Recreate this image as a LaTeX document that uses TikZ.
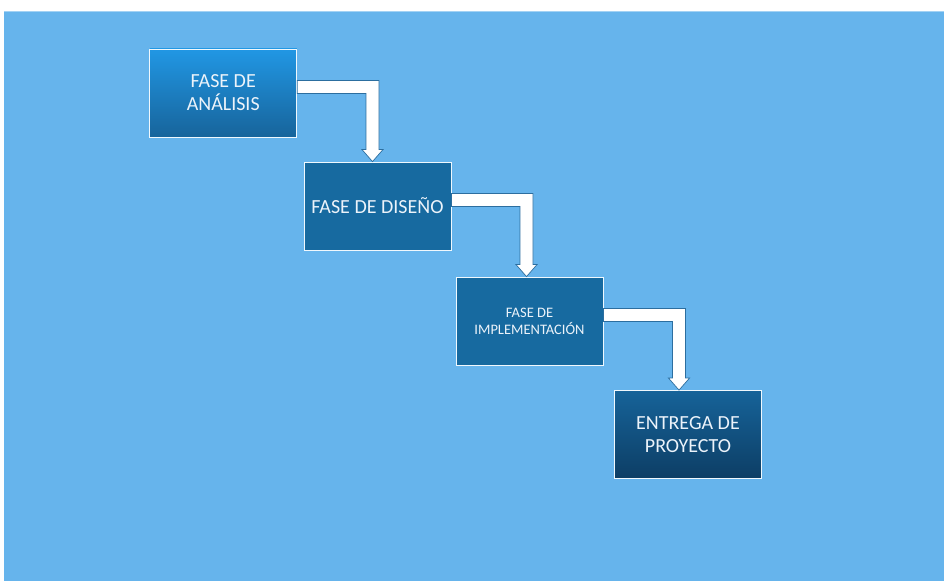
\documentclass[tikz,border=0pt]{standalone}
\usepackage{fontspec}
\setmainfont{Carlito}
\usetikzlibrary{calc}
\definecolor{bgblue}{HTML}{66B4EC}
\definecolor{topA}{HTML}{2197E4}
\definecolor{botA}{HTML}{17649B}
\definecolor{midB}{HTML}{176AA0}
\definecolor{topD}{HTML}{166399}
\definecolor{botD}{HTML}{0D3E65}
\definecolor{edgeB}{HTML}{2C6E9F}
\definecolor{txt}{HTML}{ECF3FA}
\tikzset{
  phase/.style={draw=white!90!bgblue, line width=0.8pt, minimum width=147pt, minimum height=88pt,
    inner sep=0pt, align=center, text=txt, font=\fontsize{20}{23}\selectfont},
  arr/.style={fill=white, draw=edgeB, line width=0.7pt, line join=miter}
}
\newcommand\elbow[3]{%
  \draw[arr] let \p1=(#1.east), \p2=(#2.north) in
    (\x1,\y1+12.5pt) -- (#3+6.5pt,\y1+12.5pt) -- (#3+6.5pt,\y2+12pt) -- (#3+10.5pt,\y2+12pt)
    -- (#3,\y2) -- (#3-10.5pt,\y2+12pt) -- (#3-6.5pt,\y2+12pt) -- (#3-6.5pt,\y1-0.5pt)
    -- (\x1,\y1-0.5pt) -- cycle;}
\begin{document}
\begin{tikzpicture}[x=1pt,y=1pt]
\useasboundingbox (0,0) rectangle (944,581);
\fill[white] (0,0) rectangle (944,581);
\fill[bgblue] (4,0) rectangle (944,570);
\draw[white!40!bgblue, line width=0.8pt] (4,570) -- (944,570);
\node[phase, top color=topA, bottom color=botA] (a) at (223.25,488) {FASE DE\\ANÁLISIS};
\node[phase, fill=midB] (b) at (377.5,375) {FASE DE DISEÑO};
\node[phase, fill=midB, font=\fontsize{14.5}{17}\selectfont] (c) at (529.5,260) {FASE DE\\IMPLEMENTACIÓN};
\node[phase, top color=topD, bottom color=botD] (d) at (688,146.5) {ENTREGA DE\\PROYECTO};
\elbow{a}{b}{372.5pt}
\elbow{b}{c}{526.5pt}
\elbow{c}{d}{679pt}
\end{tikzpicture}
\end{document}
